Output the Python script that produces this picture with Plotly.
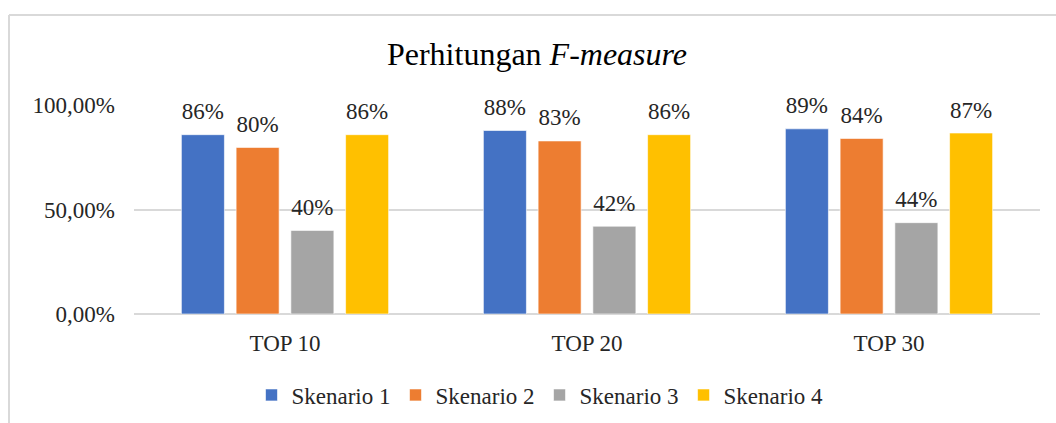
import plotly.graph_objects as go

categories = ["TOP 10", "TOP 20", "TOP 30"]
series_names = ["Skenario 1", "Skenario 2", "Skenario 3", "Skenario 4"]
skenario_1 = [0.858, 0.878, 0.886]
skenario_2 = [0.797, 0.828, 0.840]
skenario_3 = [0.400, 0.420, 0.437]
skenario_4 = [0.858, 0.858, 0.866]
colors = ["#4472C4", "#ED7D31", "#A5A5A5", "#FFC000"]
y_ticks = [0, 0.5, 1.0]

FONT = "Liberation Serif, Times New Roman, serif"
FS = 23
GAP = 0.275

fig = go.Figure()
all_series = [skenario_1, skenario_2, skenario_3, skenario_4]
for i, (name, vals, col) in enumerate(zip(series_names, all_series, colors)):
    fig.add_trace(go.Bar(
        x=categories, y=vals, name=f"<span style='font-family:Liberation Serif'>{name}</span>",
        offsetgroup=str(i),
        marker=dict(color=col, line=dict(color="rgba(255,255,255,0.6)", width=1)),
        hoverinfo="skip",
    ))
for i, (name, vals) in enumerate(zip(series_names, all_series)):
    fig.add_trace(go.Scatter(
        x=categories, y=vals, name=name, offsetgroup=str(i), showlegend=False,
        mode="markers+text", marker=dict(size=14, opacity=0),
        text=[f"<span style='font-family:Liberation Serif'>{round(v * 100)}%</span>" for v in vals],
        textposition="top center",
        textfont=dict(family=FONT, size=FS, color="#262626"),
        cliponaxis=False, hoverinfo="skip",
    ))

W, H = 1056, 423
L, R, T, B = 134, 16, 104.5, 108.5
pw, ph = W - L - R, H - T - B

def px_x(x):
    return (x - L) / pw

def px_y(y):
    return (H - B - y) / ph

fig.update_layout(
    width=W, height=H,
    margin=dict(l=L, r=R, t=T, b=B, autoexpand=False),
    paper_bgcolor="white", plot_bgcolor="white",
    separators=",.",
    barmode="group", bargap=GAP, bargroupgap=0.214,
    scattermode="group", scattergap=GAP,
    title=dict(text="Perhitungan <i>F-measure</i>", x=537 / W, xref="container", xanchor="center",
               y=1 - 54 / H, yref="container", yanchor="middle",
               font=dict(family=FONT, size=32, color="#000000")),
    font=dict(family=FONT, color="#262626", size=FS),
    legend=dict(orientation="h", x=540 / W, xref="container", xanchor="center",
                y=1 - 395 / H, yref="container", yanchor="middle",
                font=dict(family=FONT, size=FS, color="#262626"),
                itemwidth=30, tracegroupgap=0, bgcolor="rgba(0,0,0,0)"),
    xaxis=dict(showgrid=False, showline=False, ticks="", ticklabelstandoff=13,
               tickfont=dict(family=FONT, size=FS, color="#262626")),
    yaxis=dict(range=[0, 1.0], tickvals=y_ticks, tickformat=".2%", showgrid=True,
               gridcolor="#d9d9d9", gridwidth=2, zeroline=True, zerolinecolor="#d9d9d9", zerolinewidth=2,
               showline=False, ticks="", ticklabelstandoff=18,
               tickfont=dict(family=FONT, size=FS, color="#262626")),
    shapes=[
        dict(type="line", xref="paper", yref="paper", x0=px_x(9), x1=px_x(1060), y0=px_y(14), y1=px_y(14),
             line=dict(color="#d9d9d9", width=2), layer="below"),
        dict(type="line", xref="paper", yref="paper", x0=px_x(9), x1=px_x(9), y0=px_y(14), y1=px_y(430),
             line=dict(color="#d9d9d9", width=2), layer="below"),
    ],
)

fig.write_html("out.html", config={"displayModeBar": False},
               post_script="document.body.style.margin='0';document.body.style.overflow='hidden';")
